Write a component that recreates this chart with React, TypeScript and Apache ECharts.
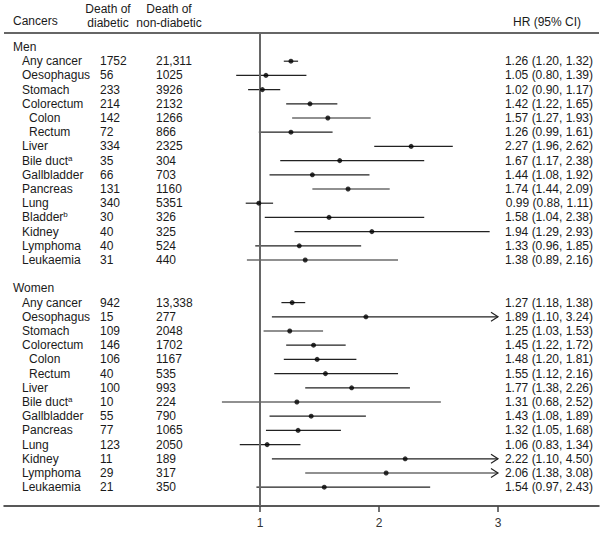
import React, { useEffect, useRef } from "react";
import * as echarts from "echarts";

// ---------- data ----------
const menCancers = ["Any cancer", "Oesophagus", "Stomach", "Colorectum", "Colon", "Rectum", "Liver", "Bile duct", "Gallbladder", "Pancreas", "Lung", "Bladder", "Kidney", "Lymphoma", "Leukaemia"];
const menNotes = ["", "", "", "", "", "", "", "a", "", "", "", "b", "", "", ""];
const menDiabetic = ["1752", "56", "233", "214", "142", "72", "334", "35", "66", "131", "340", "30", "40", "40", "31"];
const menNonDiabetic = ["21,311", "1025", "3926", "2132", "1266", "866", "2325", "304", "703", "1160", "5351", "326", "325", "524", "440"];
const menHR = [1.26, 1.05, 1.02, 1.42, 1.57, 1.26, 2.27, 1.67, 1.44, 1.74, 0.99, 1.58, 1.94, 1.33, 1.38];
const menLower = [1.20, 0.80, 0.90, 1.22, 1.27, 0.99, 1.96, 1.17, 1.08, 1.44, 0.88, 1.04, 1.29, 0.96, 0.89];
const menUpper = [1.32, 1.39, 1.17, 1.65, 1.93, 1.61, 2.62, 2.38, 1.92, 2.09, 1.11, 2.38, 2.93, 1.85, 2.16];

const womenCancers = ["Any cancer", "Oesophagus", "Stomach", "Colorectum", "Colon", "Rectum", "Liver", "Bile duct", "Gallbladder", "Pancreas", "Lung", "Kidney", "Lymphoma", "Leukaemia"];
const womenNotes = ["", "", "", "", "", "", "", "a", "", "", "", "", "", ""];
const womenDiabetic = ["942", "15", "109", "146", "106", "40", "100", "10", "55", "77", "123", "11", "29", "21"];
const womenNonDiabetic = ["13,338", "277", "2048", "1702", "1167", "535", "993", "224", "790", "1065", "2050", "189", "317", "350"];
const womenHR = [1.27, 1.89, 1.25, 1.45, 1.48, 1.55, 1.77, 1.31, 1.43, 1.32, 1.06, 2.22, 2.06, 1.54];
const womenLower = [1.18, 1.10, 1.03, 1.22, 1.20, 1.12, 1.38, 0.68, 1.08, 1.05, 0.83, 1.10, 1.38, 0.97];
const womenUpper = [1.38, 3.24, 1.53, 1.72, 1.81, 2.16, 2.26, 2.52, 1.89, 1.68, 1.34, 4.50, 3.08, 2.43];

const subSites = ["Colon", "Rectum"];
const tickValues = [1, 2, 3];
const headerCancers = "Cancers";
const headerDiabetic = ["Death of", "diabetic"];
const headerNonDiabetic = ["Death of", "non-diabetic"];
const headerHR = "HR (95% CI)";

// ---------- layout / style ----------
const FONT = '"Liberation Sans", Arial, sans-serif';
const TEXT = "#1a1a1a";
const W = 604;
const H = 534;
const X_PX_LEFT = 4;
const X_PX_RIGHT = 599;
const PX_AT_1 = 260;
const PX_PER_UNIT = 119;
const X_MIN = 1 - (PX_AT_1 - X_PX_LEFT) / PX_PER_UNIT;
const X_MAX = X_MIN + (X_PX_RIGHT - X_PX_LEFT) / PX_PER_UNIT;
const X_CAP = 3;
const GRID_TOP = 33;
const GRID_BOTTOM_PX = 506;
const ROW0_PX = 47;
const ROW_STEP = 14.2;

type Row = {
  kind: "group" | "blank" | "item";
  label?: string;
  note?: string;
  diab?: string;
  nondiab?: string;
  hr?: number;
  lo?: number;
  hi?: number;
};

function buildGroup(title: string, names: string[], notes: string[], d: string[], nd: string[], hr: number[], lo: number[], hi: number[]): Row[] {
  const out: Row[] = [{ kind: "group", label: title }];
  names.forEach((n, i) => {
    out.push({ kind: "item", label: n, note: notes[i], diab: d[i], nondiab: nd[i], hr: hr[i], lo: lo[i], hi: hi[i] });
  });
  return out;
}

const rows: Row[] = [
  ...buildGroup("Men", menCancers, menNotes, menDiabetic, menNonDiabetic, menHR, menLower, menUpper),
  { kind: "blank" },
  ...buildGroup("Women", womenCancers, womenNotes, womenDiabetic, womenNonDiabetic, womenHR, womenLower, womenUpper),
];

const Y_MIN = -(ROW0_PX - GRID_TOP) / ROW_STEP;
const Y_MAX = Y_MIN + (GRID_BOTTOM_PX - GRID_TOP) / ROW_STEP;

const fmt = (v: number) => v.toFixed(2);

export default function App() {
  const ref = useRef<HTMLDivElement>(null);

  useEffect(() => {
    document.body.style.margin = "0";
    if (!ref.current) return;
    const chart = echarts.init(ref.current, null, { renderer: "svg" });

    const itemIdx = rows.map((r, i) => (r.kind === "item" ? i : -1)).filter((i) => i >= 0);
    const ciData = itemIdx.map((i) => [rows[i].lo, rows[i].hi, i]);
    const pointData = itemIdx.map((i) => [rows[i].hr, i]);
    const textData = rows.map((_, i) => [0, i]);

    const baseText = { fontFamily: FONT, fontSize: 12, fill: TEXT, verticalAlign: "middle" };

    const option: any = {
      animation: false,
      backgroundColor: "#ffffff",
      grid: { left: X_PX_LEFT, right: W - X_PX_RIGHT, top: GRID_TOP, bottom: H - GRID_BOTTOM_PX, containLabel: false },
      xAxis: {
        type: "value",
        min: X_MIN,
        max: X_MAX,
        splitLine: { show: false },
        axisLine: { show: true, onZero: false, lineStyle: { color: "#222", width: 1.5 } },
        axisTick: { show: true, customValues: tickValues, length: 6, lineStyle: { color: "#444", width: 1.5 } },
        axisLabel: { show: true, customValues: tickValues, color: "#333", fontSize: 12, fontFamily: FONT, margin: 11 },
      },
      yAxis: {
        type: "value",
        inverse: true,
        min: Y_MIN,
        max: Y_MAX,
        show: false,
        splitLine: { show: false },
      },
      graphic: [
        { type: "line", shape: { x1: X_PX_LEFT, y1: GRID_TOP, x2: X_PX_RIGHT, y2: GRID_TOP }, style: { stroke: "#666", lineWidth: 2 } },
        { type: "text", x: 13, y: 21, style: { ...baseText, text: headerCancers } },
        { type: "text", x: 108, y: 9, style: { ...baseText, align: "center", text: headerDiabetic[0] } },
        { type: "text", x: 108, y: 23, style: { ...baseText, align: "center", text: headerDiabetic[1] } },
        { type: "text", x: 169, y: 9, style: { ...baseText, align: "center", text: headerNonDiabetic[0] } },
        { type: "text", x: 169, y: 23, style: { ...baseText, align: "center", text: headerNonDiabetic[1] } },
        { type: "text", x: 547, y: 22, style: { ...baseText, align: "center", text: headerHR } },
      ],
      series: [
        {
          type: "custom",
          name: "text",
          data: textData,
          encode: { x: 0, y: 1 },
          silent: true,
          renderItem: (params: any, api: any) => {
            const r = rows[params.dataIndex];
            const y = api.coord([0, api.value(1)])[1];
            const children: any[] = [];
            if (r.kind === "group") {
              children.push({ type: "text", x: 13, y, style: { ...baseText, text: r.label } });
            } else if (r.kind === "item") {
              const x0 = subSites.includes(r.label as string) ? 29 : 22;
              const txt = r.note ? `${r.label}{sup|${r.note}}` : (r.label as string);
              children.push({
                type: "text",
                x: x0,
                y,
                style: {
                  ...baseText,
                  text: txt,
                  rich: { sup: { fontSize: 8, fontFamily: FONT, fill: TEXT, verticalAlign: "top", padding: [0, 0, 5, 0] } },
                },
              });
              children.push({ type: "text", x: 100, y, style: { ...baseText, text: r.diab } });
              children.push({ type: "text", x: 156, y, style: { ...baseText, text: r.nondiab } });
              children.push({
                type: "text",
                x: 593,
                y,
                style: { ...baseText, align: "right", text: `${fmt(r.hr as number)} (${fmt(r.lo as number)}, ${fmt(r.hi as number)})` },
              });
            }
            return { type: "group", children };
          },
        },
        {
          type: "custom",
          name: "ci",
          data: ciData,
          encode: { x: [0, 1], y: 2 },
          silent: true,
          renderItem: (params: any, api: any) => {
            const lo = api.value(0);
            const hi = api.value(1);
            const row = api.value(2);
            const p0 = api.coord([lo, row]);
            const p1 = api.coord([Math.min(hi, X_CAP), row]);
            const children: any[] = [
              { type: "line", shape: { x1: p0[0], y1: p0[1], x2: p1[0], y2: p1[1] }, style: { stroke: "#222", lineWidth: 1.2 } },
            ];
            if (hi > X_CAP) {
              children.push({
                type: "polyline",
                shape: { points: [[p1[0] - 7, p1[1] - 4.5], [p1[0], p1[1]], [p1[0] - 7, p1[1] + 4.5]] },
                style: { stroke: "#222", lineWidth: 1.2, fill: null },
              });
            }
            return { type: "group", children };
          },
        },
        {
          type: "scatter",
          name: "HR",
          data: pointData,
          symbol: "circle",
          symbolSize: 5,
          itemStyle: { color: "#000" },
          silent: true,
          markLine: {
            silent: true,
            symbol: "none",
            label: { show: false },
            lineStyle: { color: "#666", width: 2, type: "solid" },
            data: [{ xAxis: 1 }],
          },
          z: 5,
        },
      ],
    };

    chart.setOption(option);
    return () => chart.dispose();
  }, []);

  return <div ref={ref} style={{ width: W, height: H }} />;
}
